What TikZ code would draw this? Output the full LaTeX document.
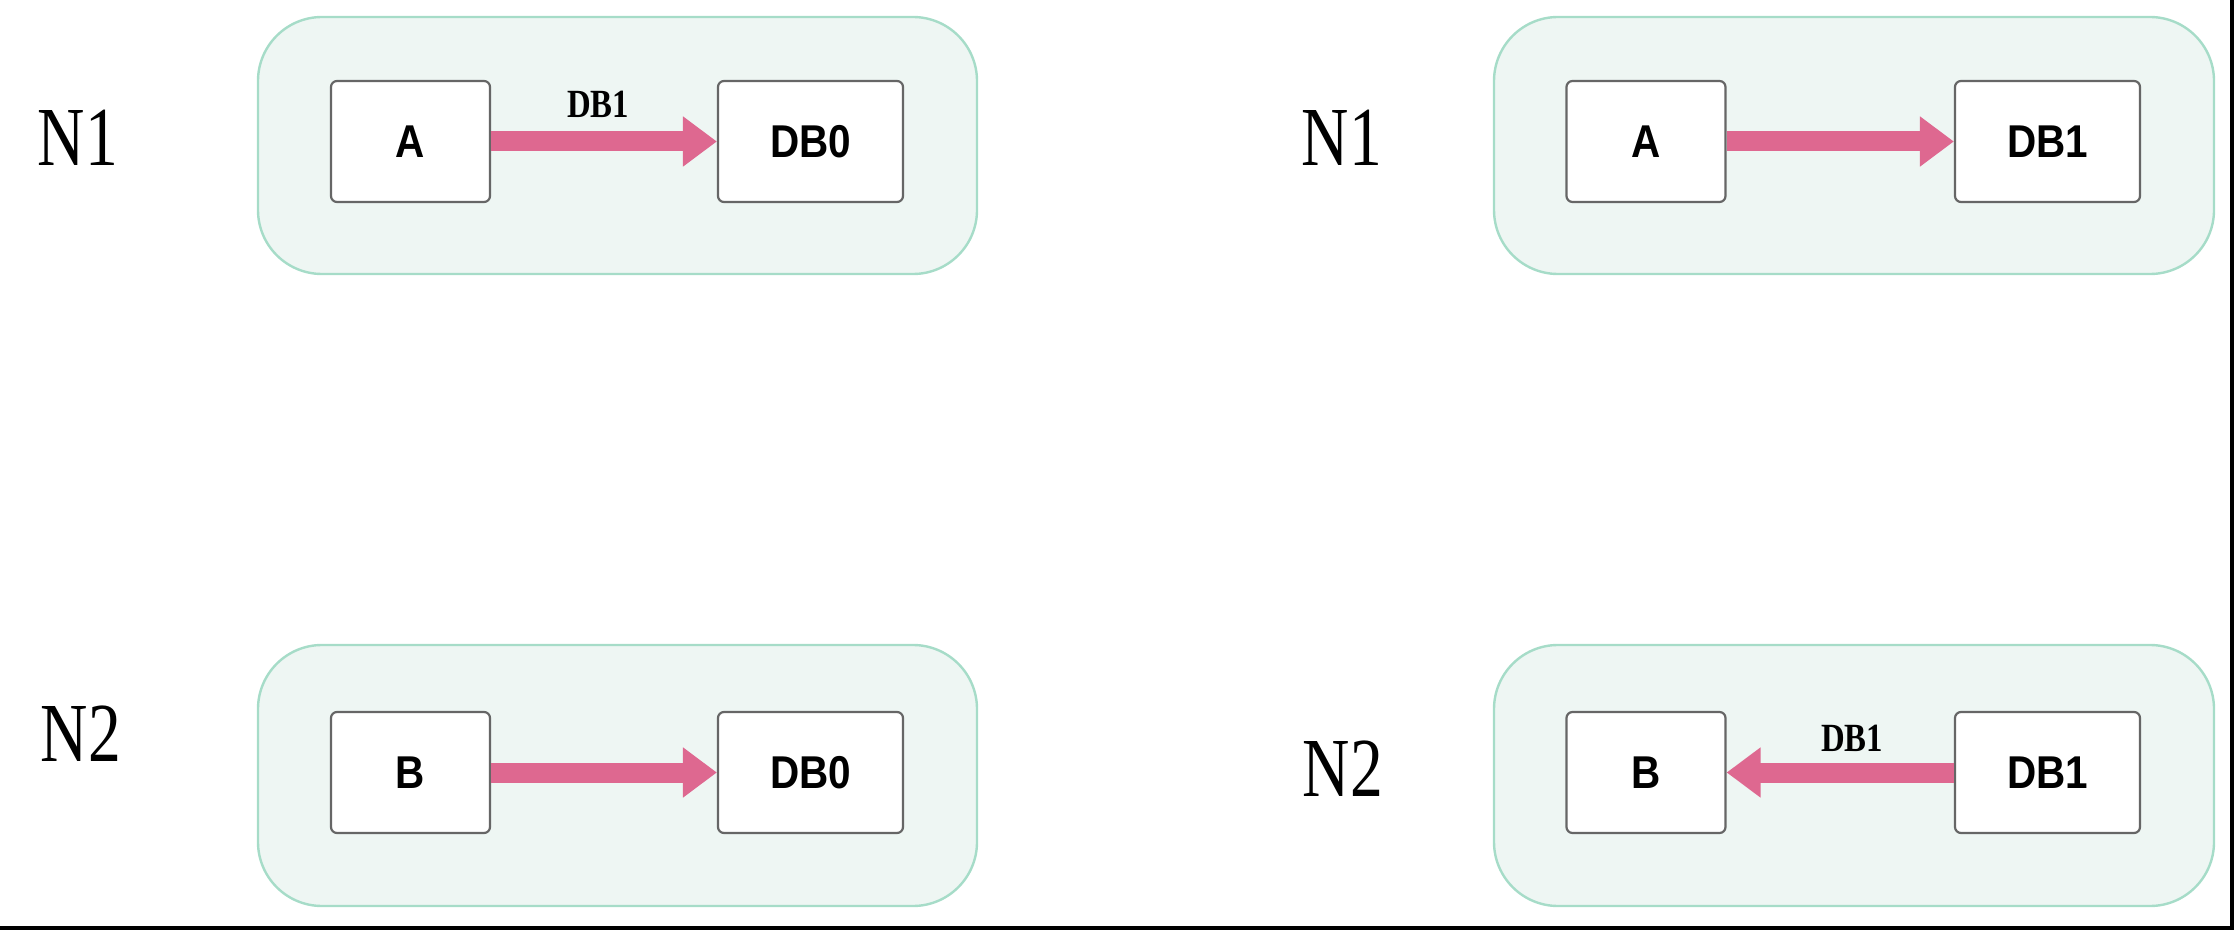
\documentclass[tikz,border=0pt]{standalone}
\usepackage{fontspec}
\newfontfamily\boxfont{Liberation Sans}
\newfontfamily\labfont{Liberation Serif}
\usetikzlibrary{arrows.meta}
\definecolor{contfill}{HTML}{EEF6F3}
\definecolor{contline}{HTML}{A6DCC8}
\definecolor{boxline}{HTML}{666666}
\definecolor{arrowpink}{HTML}{DE6890}
\tikzset{
  container/.style={draw=contline, line width=1.2pt, fill=contfill, rounded corners=32pt, inner sep=0pt},
  dbbox/.style={draw=boxline, line width=1.1pt, fill=white, rounded corners=3pt, inner sep=0pt,
    minimum height=60.5pt},
  boxtext/.style={inner sep=0pt, font=\boxfont\fontsize{23}{27}\selectfont\bfseries, xscale=0.88},
  narrowbox/.style={dbbox, minimum width=79.5pt},
  widebox/.style={dbbox, minimum width=92.5pt},
  nlabel/.style={inner sep=0pt, font=\labfont\fontsize{42}{50}\selectfont, xscale=0.78},
  flowlabel/.style={inner sep=0pt, font=\labfont\fontsize{20}{24}\selectfont\bfseries, xscale=0.82},
  flow/.style={draw=arrowpink, line width=10pt, -{Triangle[width=24pt,length=17pt]}},
  frameline/.style={draw=black, line width=1.6pt}
}
\begin{document}
\begin{tikzpicture}[x=0.5pt,y=-0.5pt]
\useasboundingbox (0,0) rectangle (2234,930);
% containers
\node[container, minimum width=359.5pt, minimum height=128.5pt] (c1) at (617.5,145.5) {};
\node[container, minimum width=360pt, minimum height=128.5pt] (c2) at (1854,145.5) {};
\node[container, minimum width=359.5pt, minimum height=130.5pt] (c3) at (617.5,775.5) {};
\node[container, minimum width=360pt, minimum height=130.5pt] (c4) at (1854,775.5) {};
% side labels
\node[nlabel] (n1a) at (78,138) {N1};
\node[nlabel] (n2a) at (81,734) {N2};
\node[nlabel] (n1b) at (1342,138) {N1};
\node[nlabel] (n2b) at (1343,769) {N2};
% top-left
\node[narrowbox] (a1) at (410.5,141.5) {};
\node[boxtext] at (a1) {A};
\node[widebox] (d1) at (810.5,141.5) {};
\node[boxtext] at (d1) {DB0};
\draw[flow] (a1.east) -- (d1.west);
\node[flowlabel] (l1) at (598,104) {DB1};
% top-right
\node[narrowbox] (a2) at (1646,141.5) {};
\node[boxtext] at (a2) {A};
\node[widebox] (d2) at (2047.5,141.5) {};
\node[boxtext] at (d2) {DB1};
\draw[flow] (a2.east) -- (d2.west);
% bottom-left
\node[narrowbox] (b1) at (410.5,772.5) {};
\node[boxtext] at (b1) {B};
\node[widebox] (d3) at (810.5,772.5) {};
\node[boxtext] at (d3) {DB0};
\draw[flow] (b1.east) -- (d3.west);
% bottom-right
\node[narrowbox] (b2) at (1646,772.5) {};
\node[boxtext] at (b2) {B};
\node[widebox] (d4) at (2047.5,772.5) {};
\node[boxtext] at (d4) {DB1};
\draw[flow] (d4.west) -- (b2.east);
\node[flowlabel] (l2) at (1852,738) {DB1};
% frame edges
\coordinate (fr1) at (2232,0);
\coordinate (fr2) at (2232,928);
\coordinate (fr3) at (0,928);
\draw[frameline] (fr1) -- (fr2) -- (fr3);
\end{tikzpicture}
\end{document}
